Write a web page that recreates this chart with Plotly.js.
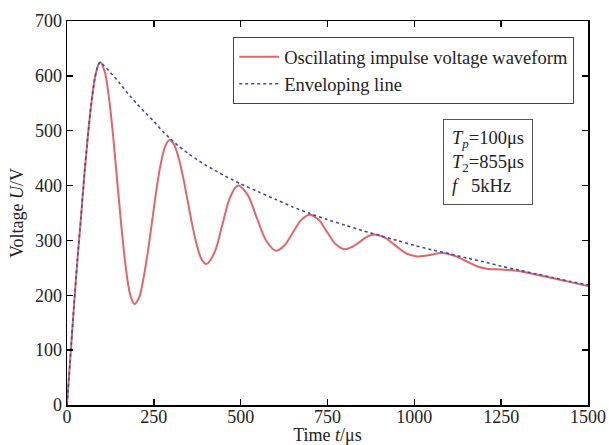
<!DOCTYPE html>
<html>
<head>
<meta charset="utf-8">
<script src="https://cdn.plot.ly/plotly-3.0.1.min.js"></script>
<style>html,body{margin:0;padding:0;background:#fff;}</style>
</head>
<body>
<div id="chart" style="width:609px;height:445px;"></div>
<script>
// Oscillating impulse voltage waveform
var waveT = [0,10,20,30,40,50,60,70,80,90,96,108,120,133,145,157,170,182,194,207,219,232,245,257,270,283,295,308,322,335,348,361,374,388,401,424,447,470,492,520,547,575,602,626,650,674,698,724,749,774,799,820,842,864,885,915,945,975,1005,1040,1080,1120,1150,1180,1212,1250,1290,1350,1400,1450,1500];
var waveV = [0,90,180,265,340,420,490,550,595,620,625,609,564,489,405,323,247,201,184,195,227,276,335,390,440,472,483,475,449,413,370,327,291,265,257,277,328,379,400,383,340,298,281,291,314,337,347,338,315,293,284,288,297,307,311,305,291,277,271,273,277,271,262,253,248,247,245,238,231,224,217];
// Enveloping line
var envT = [0,10,20,30,40,50,60,70,80,90,96,100,125,150,175,200,225,250,275,300,325,350,375,400,425,450,475,500,550,600,650,700,750,800,850,900,950,1000,1050,1100,1150,1200,1250,1300,1350,1400,1450,1500];
var envV = [0,90,180,265,340,420,490,550,595,620,625,623,606,588,568,550,533,517,499,484,470,458,447,437,428,419,411,403,389,375,361,349,338,328,318,309,300,291,283,276,268,261,253,246,239,232,225,219];

var names = ['Oscillating impulse voltage waveform', 'Enveloping line'];
var xTicks = [0,250,500,750,1000,1250,1500];
var yTicks = [0,100,200,300,400,500,600,700];

var font = 'Liberation Serif, Times New Roman, serif';

var traces = [
  {x: waveT, y: waveV, name: names[0], mode: 'lines',
   line: {color: 'rgb(228,100,104)', width: 2, shape: 'spline', smoothing: 1}},
  {x: envT, y: envV, name: names[1], mode: 'lines',
   line: {color: 'rgb(64,74,165)', width: 1.6, dash: 'dot', shape: 'spline', smoothing: 0.6}}
];

var axisCommon = {
  showline: true, linecolor: '#000', linewidth: 1.5, mirror: 'ticks',
  ticks: 'inside', ticklen: 6, tickwidth: 1.5, tickcolor: '#000',
  showgrid: false, zeroline: false, automargin: false,
  tickfont: {family: font, size: 18, color: '#222'}
};

var layout = {
  width: 609, height: 445,
  margin: {l: 67, r: 21, t: 21, b: 40},
  paper_bgcolor: '#fff', plot_bgcolor: '#fff',
  font: {family: font, color: '#222'},
  showlegend: true,
  legend: {x: 0.319, y: 0.958, xanchor: 'left', yanchor: 'top',
           bordercolor: '#444', borderwidth: 1, bgcolor: '#fff',
           font: {family: font, size: 18.5, color: '#222'},
           tracegroupgap: 0, itemwidth: 40},
  xaxis: Object.assign({}, axisCommon, {
    range: [0, 1500], tickmode: 'array', tickvals: xTicks, ticktext: xTicks.map(String),
    ticklabelstandoff: -5,
    title: {text: 'Time <i>t</i>/μs', font: {family: font, size: 18, color: '#222'}, standoff: 5}
  }),
  yaxis: Object.assign({}, axisCommon, {
    range: [0, 700], tickmode: 'array', tickvals: yTicks, ticktext: yTicks.map(String),
    title: {text: 'Voltage <i>U</i>/V', font: {family: font, size: 18, color: '#222'}, standoff: 6}
  }),
  annotations: [{
    xref: 'paper', yref: 'paper', x: 0.808, y: 0.634, xanchor: 'center', yanchor: 'middle',
    showarrow: false, align: 'left',
    text: '<i>T<sub>p</sub></i>=100μs<br><i>T</i><sub>2</sub>=855μs<br><i>f</i>   5kHz',
    font: {family: font, size: 18.5, color: '#222'},
    bordercolor: '#555', borderwidth: 1, borderpad: 8, bgcolor: '#fff'
  }]
};

Plotly.newPlot('chart', traces, layout, {displayModeBar: false, staticPlot: true});
</script>
</body>
</html>
